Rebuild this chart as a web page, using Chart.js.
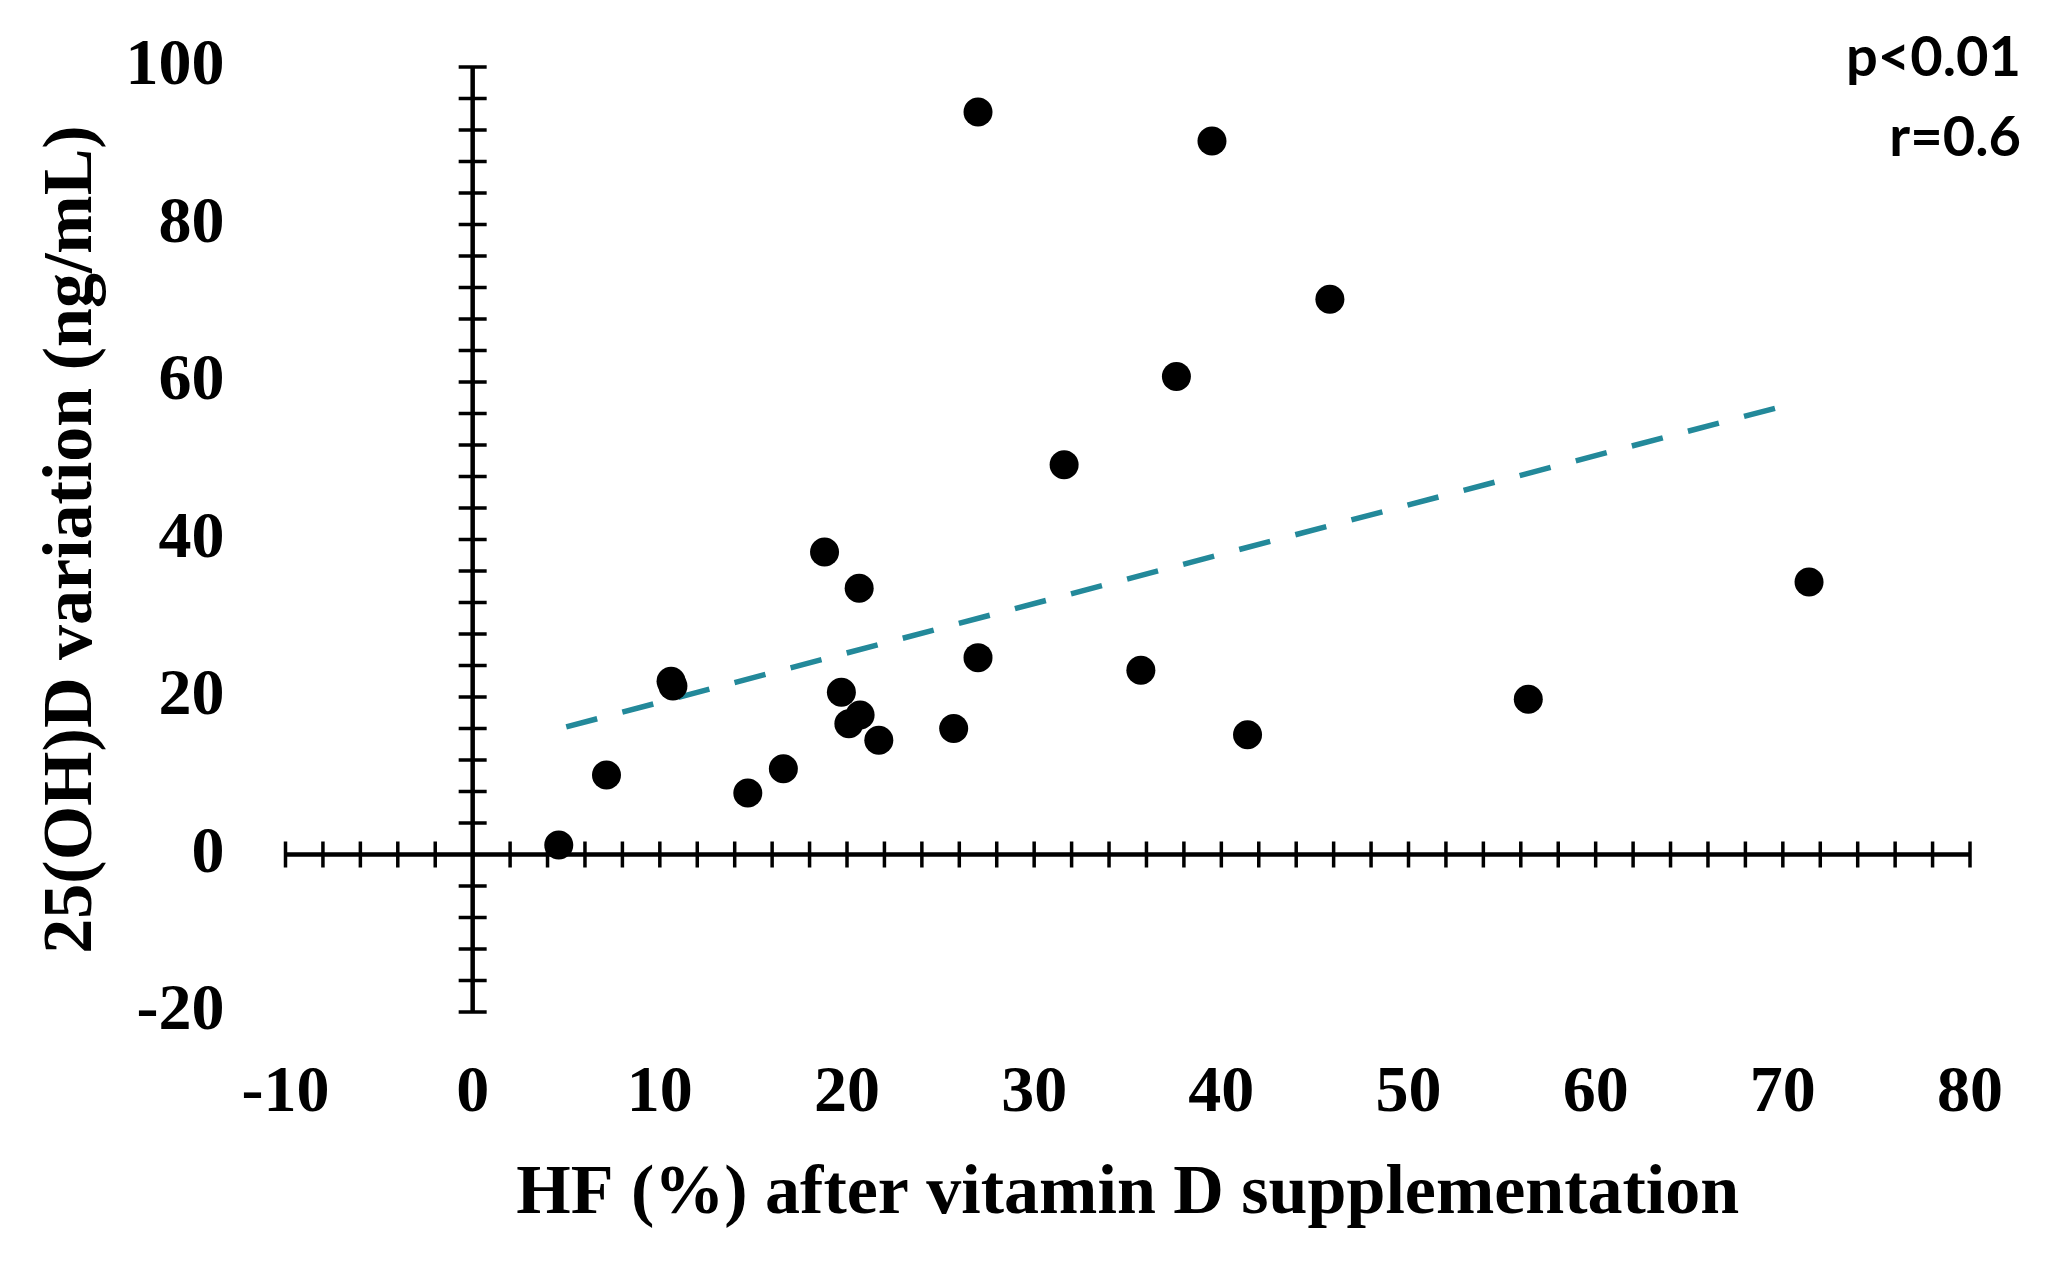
<!DOCTYPE html>
<html><head><meta charset="utf-8">
<script src="https://cdn.jsdelivr.net/npm/chart.js@4"></script>
<style>html,body{margin:0;padding:0;background:#fff;} #c{display:block;}</style>
</head><body>
<canvas id="c" width="2067" height="1268"></canvas>
<script>
// ---- data ----
const hfValues     = [4.6, 7.15, 10.6, 10.7, 14.7, 16.6, 18.8, 19.7, 20.1, 20.7, 20.65, 21.7, 25.7, 27.0, 27.0, 31.6, 35.7, 37.6, 39.5, 41.4, 45.8, 56.4, 71.4];
const vitDVariation = [1.2, 10.1, 22.0, 21.4, 7.8, 10.9, 38.4, 20.6, 16.6, 17.7, 33.8, 14.5, 16.0, 94.3, 25.0, 49.5, 23.4, 60.7, 90.6, 15.2, 70.5, 19.7, 34.6];
const trendX = [5.0, 70.6];
const trendY = [16.2, 57.3];
const xTickLabels = [-10, 0, 10, 20, 30, 40, 50, 60, 70, 80];
const yTickLabels = [-20, 0, 20, 40, 60, 80, 100];
const xMinorStep = 2;
const yMinorStep = 4;
const statLines = ['p<0.01', 'r=0.6'];
const xTitle = 'HF (%) after vitamin D supplementation';
const yTitle = '25(OH)D variation (ng/mL)';

const serif = 'Liberation Serif';

const crossAxes = {
  id: 'crossAxes',
  beforeDatasetsDraw(chart) {
    const {ctx, scales: {x, y}} = chart;
    const x0 = x.getPixelForValue(0), y0 = y.getPixelForValue(0);
    ctx.save();
    ctx.strokeStyle = '#000';
    ctx.lineWidth = 4.5;
    ctx.beginPath();
    ctx.moveTo(x.getPixelForValue(x.min), y0); ctx.lineTo(x.getPixelForValue(x.max), y0);
    ctx.moveTo(x0, y.getPixelForValue(y.min)); ctx.lineTo(x0, y.getPixelForValue(y.max));
    ctx.stroke();
    ctx.lineWidth = 3.5;
    ctx.beginPath();
    for (let v = x.min; v <= x.max + 1e-9; v += xMinorStep) {
      if (Math.abs(v) < 1e-9) continue;
      const px = x.getPixelForValue(v);
      ctx.moveTo(px, y0 - 13); ctx.lineTo(px, y0 + 13);
    }
    for (let v = y.min; v <= y.max + 1e-9; v += yMinorStep) {
      if (Math.abs(v) < 1e-9) continue;
      const py = y.getPixelForValue(v);
      ctx.moveTo(x0 - 14, py); ctx.lineTo(x0 + 14, py);
    }
    ctx.stroke();
    ctx.restore();
  }
};

const statsText = {
  id: 'statsText',
  afterDraw(chart) {
    const {ctx} = chart;
    ctx.save();
    ctx.fillStyle = '#000';
    ctx.font = 'bold 56px Lato';
    ctx.textAlign = 'right';
    ctx.textBaseline = 'middle';
    ctx.fillText(statLines[0], 2021, 58);
    ctx.fillText(statLines[1], 2021, 138);
    ctx.restore();
  }
};

new Chart(document.getElementById('c'), {
  type: 'scatter',
  data: {
    datasets: [
      {
        label: 'points',
        data: hfValues.map((v, i) => ({x: v, y: vitDVariation[i]})),
        backgroundColor: '#000',
        borderColor: '#000',
        pointRadius: 14.5,
        pointHoverRadius: 14.5,
        borderWidth: 0,
        clip: false
      },
      {
        label: 'trend',
        data: trendX.map((v, i) => ({x: v, y: trendY[i]})),
        showLine: true,
        borderColor: '#23899a',
        borderWidth: 5.5,
        borderDash: [32, 26],
        pointRadius: 0,
        fill: false
      }
    ]
  },
  options: {
    responsive: false,
    devicePixelRatio: 1,
    animation: false,
    layout: {padding: {left: 0, right: 97, top: 67, bottom: 0}},
    plugins: {legend: {display: false}, tooltip: {enabled: false}},
    scales: {
      x: {
        type: 'linear', min: -10, max: 80,
        grid: {display: false, drawTicks: false},
        border: {display: false},
        afterBuildTicks: s => { s.ticks = xTickLabels.map(v => ({value: v})); },
        afterFit: s => { s.height = 256; s.paddingLeft = 0; s.paddingRight = 0; },
        ticks: {padding: 42, color: '#000', maxRotation: 0, autoSkip: false,
                font: {family: serif, size: 66, weight: 'bold'}},
        title: {display: true, text: xTitle, color: '#000',
                font: {family: serif, size: 70, weight: 'bold'},
                padding: {top: 0, bottom: 31}}
      },
      y: {
        type: 'linear', min: -20, max: 100,
        grid: {display: false, drawTicks: false},
        border: {display: false},
        afterBuildTicks: s => { s.ticks = yTickLabels.map(v => ({value: v})); },
        afterFit: s => { s.width = 285.5; s.paddingTop = 0; s.paddingBottom = 0; },
        ticks: {padding: 61, color: '#000', autoSkip: false,
                font: {family: serif, size: 66, weight: 'bold'}},
        title: {display: true, text: yTitle, color: '#000',
                font: {family: serif, size: 70, weight: 'bold'},
                padding: {top: 31, bottom: 0}}
      }
    }
  },
  plugins: [crossAxes, statsText]
});
</script>
</body></html>
